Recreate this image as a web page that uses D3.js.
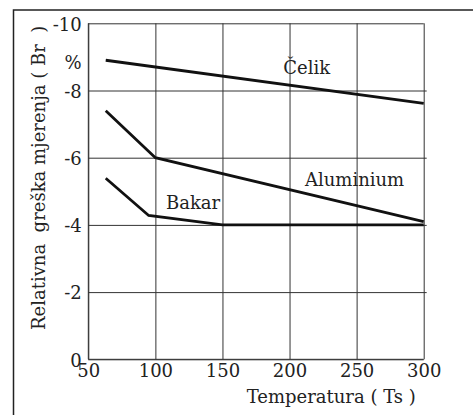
<!DOCTYPE html>
<html>
<head>
<meta charset="utf-8">
<script src="https://cdn.jsdelivr.net/npm/d3@7"></script>
<style>
  body { margin: 0; background: #fff; }
</style>
</head>
<body>
<div id="chart"></div>
<script>
// data
var xTicks = [50, 100, 150, 200, 250, 300];
var yTicks = [0, -2, -4, -6, -8, -10];
var celikTemp = [63, 300];
var celikErr = [-8.9, -7.62];
var aluTemp = [63, 100, 300];
var aluErr = [-7.4, -6.0, -4.1];
var bakarTemp = [63, 95, 150, 300];
var bakarErr = [-5.39, -4.28, -4.0, -4.0];

var serif = "DejaVu Serif";

var svgWidth = 473;
var svgHeight = 415;
var margin = { top: 23.3, right: 49.3, bottom: 55.7, left: 88.3 };
var width = svgWidth - margin.left - margin.right;
var height = svgHeight - margin.top - margin.bottom;

var svg = d3.select("#chart")
  .append("svg")
  .attr("width", svgWidth)
  .attr("height", svgHeight)
  .style("font-family", serif);

// outer frame (top and left edge only, rest is cut off)
svg.append("path")
  .attr("d", "M13.5,415 L13.5,10 L473,10")
  .attr("fill", "none")
  .attr("stroke", "#222")
  .attr("stroke-width", 1.5);

var chartGroup = svg.append("g")
  .attr("transform", `translate(${margin.left}, ${margin.top})`);

var x = d3.scaleLinear().domain([50, 300]).range([0, width]);
var y = d3.scaleLinear().domain([0, -10]).range([height, 0]);

// grid + ticks
var xAxis = chartGroup.append("g")
  .attr("transform", `translate(0, ${height})`)
  .call(d3.axisBottom(x).tickValues(xTicks).tickSize(-height).tickPadding(5));

var yAxis = chartGroup.append("g")
  .call(d3.axisLeft(y).tickValues(yTicks).tickSize(-width).tickPadding(6.6)
    .tickFormat(d => d === 0 ? "0" : String(d)));

[xAxis, yAxis].forEach(function(ax) {
  ax.attr("font-family", serif).attr("font-size", 18);
  ax.select(".domain").remove();
  ax.selectAll("line").attr("stroke", "#333").attr("stroke-width", 1);
  ax.selectAll("text").attr("fill", "#222");
});
yAxis.selectAll("text").attr("dy", "0.38em");
// inner horizontal lines poke a little past the right edge
yAxis.selectAll(".tick line").filter(d => d !== 0 && d !== -10).attr("x2", width + 3);
// left and bottom border
chartGroup.append("path")
  .attr("d", `M0,0 L0,${height} L${width},${height}`)
  .attr("fill", "none")
  .attr("stroke", "#333");

// "%" unit under -10
chartGroup.append("text")
  .attr("x", -6.6)
  .attr("y", 46)
  .attr("text-anchor", "end")
  .attr("font-family", serif)
  .attr("font-size", "18px")
  .attr("fill", "#222")
  .text("%");

// data lines
var line = d3.line().x(d => x(d[0])).y(d => y(d[1]));
var series = [
  { name: "Čelik", pts: d3.zip(celikTemp, celikErr), lx: 283.3, ly: 74.3 },
  { name: "Aluminium", pts: d3.zip(aluTemp, aluErr), lx: 305, ly: 185.7 },
  { name: "Bakar", pts: d3.zip(bakarTemp, bakarErr), lx: 166, ly: 209.3 }
];

chartGroup.selectAll(".series")
  .data(series)
  .enter()
  .append("path")
  .attr("class", "series")
  .attr("d", d => line(d.pts))
  .attr("fill", "none")
  .attr("stroke", "#111")
  .attr("stroke-width", 2.8)
  .attr("stroke-linejoin", "miter");

svg.selectAll(".seriesLabel")
  .data(series)
  .enter()
  .append("text")
  .attr("class", "seriesLabel")
  .attr("x", d => d.lx)
  .attr("y", d => d.ly)
  .attr("font-family", serif)
  .attr("font-size", "18px")
  .attr("fill", "#222")
  .text(d => d.name);

// axis titles
svg.append("text")
  .attr("x", 246.7)
  .attr("y", 403.3)
  .attr("font-family", serif)
  .attr("font-size", "18px")
  .attr("fill", "#222")
  .style("white-space", "pre")
  .text("Temperatura ( Ts )");

svg.append("text")
  .attr("transform", "translate(44.5, 330) rotate(-90)")
  .attr("font-family", serif)
  .attr("font-size", "18px")
  .attr("fill", "#222")
  .style("white-space", "pre")
  .text("Relativna  greška mjerenja ( Br  )");
</script>
</body>
</html>
